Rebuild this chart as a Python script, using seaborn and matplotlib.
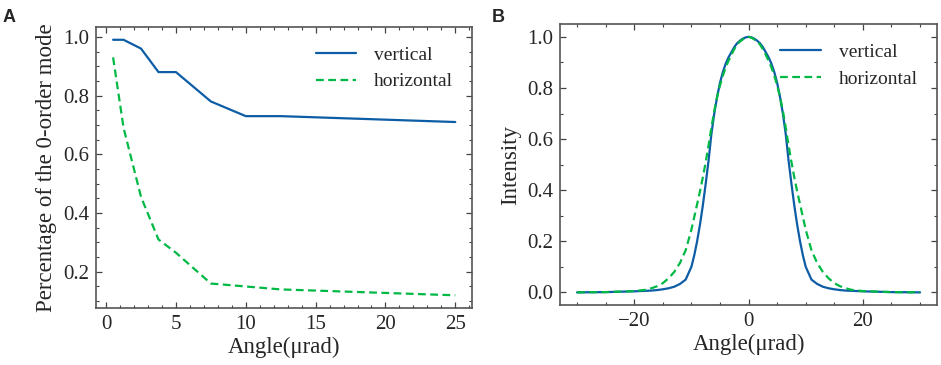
import numpy as np
import pandas as pd
import matplotlib
matplotlib.use('Agg')
import matplotlib.pyplot as plt
from matplotlib.ticker import MultipleLocator
import seaborn as sns

# Panel A: share of the 0-order mode vs angle
angle_a = [0.5, 1.25, 2.5, 3.75, 5, 7.5, 10, 12.5, 25]
vertical_a = [0.99, 0.99, 0.96, 0.88, 0.88, 0.78, 0.73, 0.73, 0.71]
horizontal_a = [0.93, 0.69, 0.455, 0.31, 0.265, 0.16, 0.15, 0.14, 0.12]

# Panel B: intensity profiles (right half; mirrored below)
angle_b_half = [0, 0.5, 1, 1.5, 2, 2.5, 3, 3.5, 4, 4.5, 5, 5.5, 6, 6.5, 7, 7.5, 8,
                8.5, 9, 9.5, 10, 11, 12, 13, 14, 15, 16, 17, 18, 20, 25, 30]
vertical_b_half = [1.0, 0.998, 0.993, 0.985, 0.975, 0.96, 0.94, 0.92, 0.895, 0.862,
                   0.82, 0.765, 0.70, 0.62, 0.515, 0.425, 0.34, 0.265, 0.20, 0.145,
                   0.10, 0.05, 0.033, 0.022, 0.016, 0.012, 0.009, 0.007, 0.006,
                   0.004, 0.001, 0.0]
horizontal_b_half = [1.0, 0.997, 0.99, 0.982, 0.97, 0.952, 0.93, 0.907, 0.88, 0.848,
                     0.81, 0.765, 0.71, 0.645, 0.575, 0.51, 0.45, 0.395, 0.345, 0.295,
                     0.245, 0.165, 0.115, 0.08, 0.055, 0.036, 0.024, 0.016, 0.01,
                     0.005, 0.001, 0.0]

angle_b = [-a for a in angle_b_half[:0:-1]] + angle_b_half
vertical_b = vertical_b_half[:0:-1] + vertical_b_half
horizontal_b = horizontal_b_half[:0:-1] + horizontal_b_half

labels = ['vertical', 'horizontal']
colors = {'vertical': '#0C5DA5', 'horizontal': '#00B945'}
dashes = {'vertical': '', 'horizontal': (3.5, 2)}


def to_long(x, v, h):
    return pd.DataFrame({
        'angle': list(x) + list(x),
        'value': list(v) + list(h),
        'mode': ['vertical'] * len(v) + ['horizontal'] * len(h),
    })


df_a = to_long(angle_a, vertical_a, horizontal_a)
df_b = to_long(angle_b, vertical_b, horizontal_b)

sns.set_style('ticks')
plt.rcParams['font.family'] = ['Liberation Serif', 'DejaVu Serif']
plt.rcParams['mathtext.fontset'] = 'stix'

fig = plt.figure(figsize=(9.41, 3.65), dpi=100)
ax_a = fig.add_axes([0.102, 0.156, 0.400, 0.770])
ax_b = fig.add_axes([0.595, 0.164, 0.401, 0.770])

for ax, df in [(ax_a, df_a), (ax_b, df_b)]:
    sns.lineplot(data=df, x='angle', y='value', hue='mode', style='mode',
                 hue_order=labels, style_order=labels, palette=colors,
                 dashes=dashes, linewidth=1.6, ax=ax)
    ax.set_xlabel('Angle(μrad)', fontsize=16.5, labelpad=2)
    ax.tick_params(which='both', direction='in', top=True, right=True,
                   labelsize=15, color='#444444')
    ax.tick_params(which='major', length=4.5, width=0.9, pad=5)
    ax.tick_params(which='minor', length=2.5, width=0.8)
    for sp in ax.spines.values():
        sp.set_color('#555555')
        sp.set_linewidth(1.2)
    ax.legend(frameon=False, fontsize=14, loc='upper right', handlelength=2.1,
              handletextpad=0.9, labelspacing=0.45, borderaxespad=0.6)

ax_a.set_ylabel('Percentage of the 0-order mode', fontsize=16.5, labelpad=4)
ax_a.xaxis.set_major_locator(MultipleLocator(5))
ax_a.xaxis.set_minor_locator(MultipleLocator(1))
ax_a.yaxis.set_minor_locator(MultipleLocator(0.05))
ax_a.set_yticks([0.2, 0.4, 0.6, 0.8, 1.0])

ax_b.set_ylabel('Intensity', fontsize=16.5, labelpad=4)
ax_b.xaxis.set_major_locator(MultipleLocator(20))
ax_b.xaxis.set_minor_locator(MultipleLocator(5))
ax_b.yaxis.set_major_locator(MultipleLocator(0.2))
ax_b.yaxis.set_minor_locator(MultipleLocator(0.1))

fig.text(0.003, 0.975, 'A', fontsize=13, fontweight='bold', family='Liberation Sans',
         va='top', ha='left')
fig.text(0.523, 0.975, 'B', fontsize=13, fontweight='bold', family='Liberation Sans',
         va='top', ha='left')

fig.savefig('out.png', dpi=100)
